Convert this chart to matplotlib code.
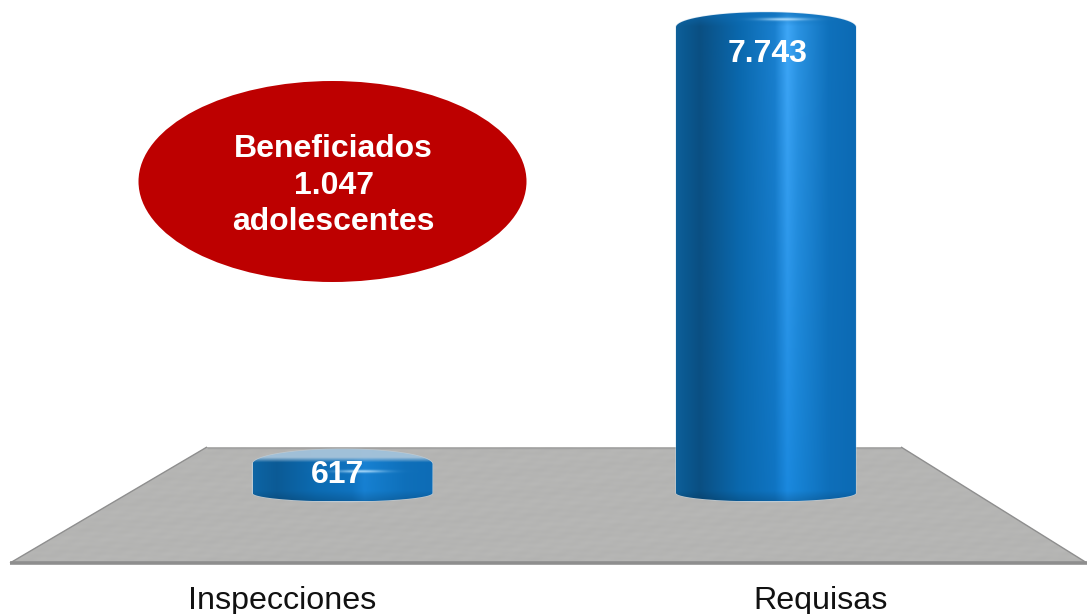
import numpy as np
import matplotlib
matplotlib.use("Agg")
import matplotlib.pyplot as plt
from matplotlib.path import Path
from matplotlib.patches import PathPatch, Polygon, Ellipse
from matplotlib.colors import to_rgb
from matplotlib.transforms import ScaledTranslation

# ---- data
categories = ["Inspecciones", "Requisas"]
values = [617, 7743]
value_labels = ["617", "7.743"]
note_lines = ["Beneficiados", "1.047", "adolescentes"]

# ---- layout in pixels
W, H = 1087, 614
AX_BOTTOM_PX = 578
Y0_PX = 487.0
PX_PER_UNIT = (449.0 - 12.0) / (values[1] - values[0])
X_PX = [342.5, 766.0]
PX_PER_CAT = X_PX[1] - X_PX[0]
HALF = 90.0
FS = 23.2
FS_BOLD = 23.0

plt.rcParams["font.family"] = ["Liberation Sans", "DejaVu Sans"]
fig = plt.figure(figsize=(W / 100, H / 100), dpi=100, facecolor="white")
ax = fig.add_axes([0, (H - AX_BOTTOM_PX) / H, 1, AX_BOTTOM_PX / H])
XLIM = (-X_PX[0] / PX_PER_CAT, (W - X_PX[0]) / PX_PER_CAT)
YLIM = ((Y0_PX - AX_BOTTOM_PX) / PX_PER_UNIT, Y0_PX / PX_PER_UNIT)
for s in ax.spines.values():
    s.set_visible(False)
ax.set_yticks([])


def dx(px):
    return px / PX_PER_CAT


def xp(px):
    return (px - X_PX[0]) / PX_PER_CAT


def yp(px):
    return (Y0_PX - px) / PX_PER_UNIT


# ---- floor, with a faint deterministic mottling
floor_poly = Polygon([(xp(10), yp(563)), (xp(207), yp(447)), (xp(901), yp(447)),
                      (xp(1087), yp(563))], closed=True, fc="#b5b5b3", ec="none", zorder=1,
                     transform=ax.transData)
ax.add_patch(floor_poly)
gx_px, gy_px = np.meshgrid(np.arange(0, 1087, 1.0), np.arange(447, 564, 1.0))
mott = (np.sin(gx_px * 0.137 + gy_px * 0.71) + np.sin(gx_px * 0.059 - gy_px * 1.13 + 1.3)
        + np.sin(gx_px * 0.311 + gy_px * 0.37 + 2.1) + np.sin(gx_px * 0.023 + gy_px * 0.29 + 0.4))
shade = (181 + 0.7 * mott) / 255
floor_img = np.stack([shade, shade, shade * 0.992], axis=-1)
fim = ax.imshow(floor_img, extent=[xp(0), xp(1087), yp(564), yp(447)], origin="upper",
                aspect="auto", interpolation="bilinear", zorder=1.05)
fim.set_clip_path(floor_poly)
ax.plot([xp(207), xp(901)], [yp(447.5)] * 2, color="#a2a2a2", lw=1, zorder=1.1, solid_capstyle="butt")
ax.plot([xp(10), xp(207)], [yp(563), yp(447)], color="#8f8f8f", lw=1, zorder=1.1, solid_capstyle="butt")
ax.plot([xp(901), xp(1087)], [yp(447), yp(563)], color="#8f8f8f", lw=1, zorder=1.1, solid_capstyle="butt")
ax.plot([xp(10), xp(1087)], [yp(562.5)] * 2, color="#8e8e8e", lw=2.6,
        solid_capstyle="butt", zorder=1.2)

# ---- cylinders
stops_t = [0.0, 0.04, 0.13, 0.35, 0.55, 0.62, 0.68, 0.85, 1.0]
stops_top = ["#0f6099", "#0b5a92", "#0a4f82", "#0a68ad", "#1a80cf", "#40a8f8", "#2b93e2", "#0f71bc", "#0c6ab4"]
stops_bot = ["#0f6099", "#0b5a92", "#0a4f82", "#0a68ad", "#0f74c2", "#1a88de", "#1682d4", "#0e6fba", "#0c6ab4"]
cap_tint = [0.9, 0.0]  # style: how pale the top cap looks on each bar
body_soften = [0.35, 0.0]  # style: low contrast on the short bar


def ramp(stops, t):
    c = np.array([to_rgb(s) for s in stops])
    return np.stack([np.interp(t, stops_t, c[:, i]) for i in range(3)], axis=-1)


for i, v in enumerate(values):
    top = Y0_PX - v * PX_PER_UNIT
    bot = 501.5
    nx, ny = 181, max(int(bot - top) * 2, 2)
    t = np.linspace(0, 1, nx)
    ypix = np.linspace(top, bot, ny)
    f = ((ypix - 12) / (bot - 12))[:, None, None]
    img = ramp(stops_top, t)[None, :, :] * (1 - f) + ramp(stops_bot, t)[None, :, :] * f
    img = img * (1 - body_soften[i]) + np.array(to_rgb("#0f70ba")) * body_soften[i]
    # top cap
    if cap_tint[i]:
        cap = np.clip((top + 14 - ypix) / 5, 0, 1)[:, None, None]
        w = cap * 0.97
    else:
        cap = np.clip((top + 15 - ypix) / 15, 0, 1)[:, None, None]
        w = cap * 0.75
    capcol = np.array(to_rgb("#0f6fb8")) * (1 - cap_tint[i]) + np.array(to_rgb("#b6ccdd")) * cap_tint[i]
    img = img * (1 - w) + capcol * w
    # thin rim glint below the cap
    gy = top + 23 if cap_tint[i] else top + 8
    gl = np.exp(-((ypix - gy) / 1.4) ** 2)[:, None]
    gxv = np.exp(-((t - 0.60) / 0.13) ** 2)[None, :]
    g = (gl * gxv)[:, :, None] * 0.85
    img = img * (1 - g) + np.array(to_rgb("#bfe6ff")) * g
    # darker foot
    foot = np.clip((ypix - (bot - 10)) / 10, 0, 1)[:, None, None]
    img = img * (1 - 0.15 * foot)

    cx = X_PX[i]
    # outline: elliptical shoulders on top, elliptical foot
    th = np.linspace(np.pi, 0, 80)
    upper = np.column_stack([cx + HALF * np.cos(th), top + 15 - 15 * np.sin(th)])
    th2 = np.linspace(0, np.pi, 80)
    lower = np.column_stack([cx + HALF * np.cos(th2), 493 + 8.5 * np.sin(th2)])
    pts = np.vstack([upper, lower, upper[:1]])
    path = Path(np.column_stack([xp(pts[:, 0]), yp(pts[:, 1])]))
    # pale halo
    ax.add_patch(PathPatch(path, fc="none", ec="#c6dcec", lw=1.0, alpha=0.55, zorder=2))
    im = ax.imshow(img, extent=[xp(cx - HALF), xp(cx + HALF), yp(bot), yp(top)],
                   origin="upper", aspect="auto", interpolation="bilinear", zorder=3)
    im.set_clip_path(PathPatch(path, transform=ax.transData))

# value labels
ax.text(xp(337), yp(475), value_labels[0], color="white", fontsize=FS_BOLD, fontweight="bold",
        ha="center", va="center", zorder=5)
ax.text(xp(768), yp(54), value_labels[1], color="white", fontsize=FS_BOLD, fontweight="bold",
        ha="center", va="center", zorder=5)

ax.set_xlim(*XLIM)
ax.set_ylim(*YLIM)

# ---- category ticks
ax.set_xticks(range(len(categories)))
ax.set_xticklabels(categories, fontsize=FS, color="#111111")
ax.tick_params(axis="x", length=0, pad=5.5)
offs = [282.5 - X_PX[0], 821.0 - X_PX[1]]
for lab, o in zip(ax.get_xticklabels(), offs):
    lab.set_transform(lab.get_transform() + ScaledTranslation(o / 100, 0, fig.dpi_scale_trans))

# ---- callout
ax.add_patch(Ellipse((xp(332.5), yp(181.5)), dx(388), 201 / PX_PER_UNIT, fc="#bd0000", ec="none", zorder=4))
for line, yy in zip(note_lines, [149, 186, 222]):
    ax.text(xp(333.5), yp(yy), line, color="white", fontsize=FS_BOLD, fontweight="bold",
            ha="center", va="center", zorder=5)

fig.savefig("out.png", dpi=100, facecolor="white")
